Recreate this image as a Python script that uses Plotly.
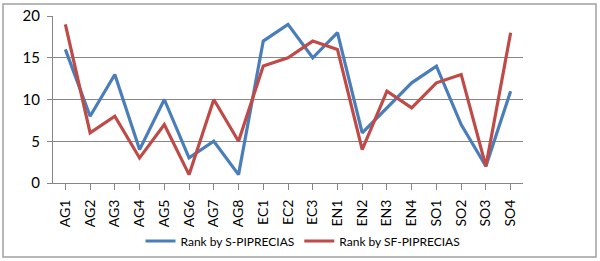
import plotly.graph_objects as go

categories = ["AG1","AG2","AG3","AG4","AG5","AG6","AG7","AG8","EC1","EC2","EC3",
              "EN1","EN2","EN3","EN4","SO1","SO2","SO3","SO4"]
rank_s = [16,8,13,4,10,3,5,1,17,19,15,18,6,9,12,14,7,2,11]
rank_sf = [19,6,8,3,7,1,10,5,14,15,17,16,4,11,9,12,13,2,18]
y_ticks = [0,5,10,15,20]

L, R, T, B = 53, 77, 16, 78
W, H = 600, 261
pw, ph = W - L - R, H - T - B

def px(x):
    return (x - L) / pw

def py(y):
    return (H - B - y) / ph

fig = go.Figure()
fig.add_trace(go.Scatter(x=categories, y=rank_s, mode="lines", name="Rank by S-PIPRECIAS",
                         line=dict(color="#4A7EBB", width=3.2)))
fig.add_trace(go.Scatter(x=categories, y=rank_sf, mode="lines", name="Rank by SF-PIPRECIAS",
                         line=dict(color="#BE4B48", width=3.2)))

fig.update_layout(
    width=W, height=H,
    margin=dict(l=L, r=R, t=T, b=B, autoexpand=False),
    paper_bgcolor="white", plot_bgcolor="white",
    font=dict(family="Lato, Open Sans, sans-serif", color="black"),
    showlegend=True,
    legend=dict(orientation="h", x=px(303), xanchor="center", y=py(241), yanchor="middle",
                font=dict(size=12), itemwidth=30, bgcolor="rgba(0,0,0,0)"),
    xaxis=dict(type="category", tickangle=-90, tickfont=dict(size=14),
               showline=True, linecolor="#868686", linewidth=1,
               ticks="outside", ticklen=6, tickcolor="#868686", ticklabelstandoff=4,
               showgrid=False, range=[-0.5, len(categories) - 0.5], fixedrange=True),
    yaxis=dict(range=[0, 20], tickvals=y_ticks, tickfont=dict(size=15),
               showline=True, linecolor="#868686", linewidth=1,
               ticks="outside", ticklen=5, tickcolor="#868686", ticklabelstandoff=4,
               showgrid=True, gridcolor="#868686", gridwidth=1,
               zeroline=False, fixedrange=True),
    shapes=[dict(type="rect", xref="paper", yref="paper",
                 x0=px(3), x1=px(596), y0=py(257), y1=py(4),
                 line=dict(color="#A0A0A0", width=1.5), layer="below")],
)

fig.write_html("out.html", config={"displayModeBar": False},
               post_script="document.body.style.margin='0';document.body.style.overflow='hidden';")
